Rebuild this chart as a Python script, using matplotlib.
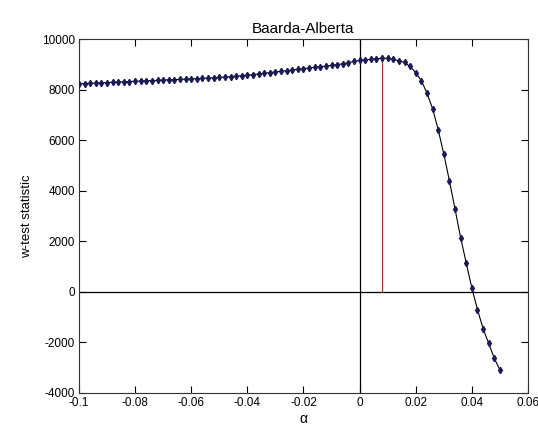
import matplotlib
matplotlib.use("Agg")
import matplotlib.pyplot as plt
import numpy as np

plt.rcParams['font.family'] = ['Liberation Sans', 'DejaVu Sans']

alpha = [-0.100, -0.098, -0.096, -0.094, -0.092, -0.090, -0.088, -0.086, -0.084, -0.082,
         -0.080, -0.078, -0.076, -0.074, -0.072, -0.070, -0.068, -0.066, -0.064, -0.062,
         -0.060, -0.058, -0.056, -0.054, -0.052, -0.050, -0.048, -0.046, -0.044, -0.042,
         -0.040, -0.038, -0.036, -0.034, -0.032, -0.030, -0.028, -0.026, -0.024, -0.022,
         -0.020, -0.018, -0.016, -0.014, -0.012, -0.010, -0.008, -0.006, -0.004, -0.002,
         0.000, 0.002, 0.004, 0.006, 0.008, 0.010, 0.012, 0.014, 0.016, 0.018,
         0.020, 0.022, 0.024, 0.026, 0.028, 0.030, 0.032, 0.034, 0.036, 0.038,
         0.040, 0.042, 0.044, 0.046, 0.048, 0.050]
wtest = [8230, 8240, 8250, 8258, 8268, 8278, 8288, 8298, 8308, 8318,
         8328, 8337, 8346, 8356, 8366, 8376, 8385, 8394, 8403, 8412,
         8422, 8432, 8443, 8455, 8467, 8480, 8496, 8513, 8531, 8550,
         8570, 8595, 8620, 8646, 8672, 8698, 8724, 8750, 8776, 8802,
         8828, 8854, 8880, 8906, 8932, 8958, 8988, 9022, 9062, 9113,
         9152, 9180, 9195, 9219, 9243, 9231, 9192, 9140, 9073, 8916,
         8667, 8351, 7863, 7246, 6418, 5450, 4391, 3274, 2142, 1132,
         146, -698, -1460, -2040, -2631, -3089]

xticks = [-0.1, -0.08, -0.06, -0.04, -0.02, 0, 0.02, 0.04, 0.06]
xticklabels = ['-0.1', '-0.08', '-0.06', '-0.04', '-0.02', '0', '0.02', '0.04', '0.06']
yticks = [-4000, -2000, 0, 2000, 4000, 6000, 8000, 10000]
yticklabels = ['-4000', '-2000', '0', '2000', '4000', '6000', '8000', '10000']

fig = plt.figure(figsize=(5.38, 4.32), dpi=100)
ax = fig.add_axes([0.1468, 0.0903, 0.8346, 0.8194])

# axes reference lines
ax.axhline(0, color='black', lw=0.9, zorder=1)
ax.axvline(0, color='black', lw=0.9, zorder=1)

# vertical red line at the maximum
imax = int(np.argmax(wtest))
ax.plot([alpha[imax], alpha[imax]], [0, wtest[imax]], color='#b03030', lw=0.9, zorder=1)

ax.plot(alpha, wtest, color='black', lw=0.8, zorder=2)
ax.plot(alpha, wtest, linestyle='none', marker='d', markersize=3.2,
        markerfacecolor='#1a1a55', markeredgecolor='#1a1a55', zorder=3)

ax.set_xlim(-0.1, 0.06)
ax.set_ylim(-4000, 10000)
ax.set_xticks(xticks)
ax.set_xticklabels(xticklabels)
ax.set_yticks(yticks)
ax.set_yticklabels(yticklabels)
ax.tick_params(direction='in', top=True, right=True, length=5, width=0.8,
               labelsize=8.5, colors='black', pad=3)
for s in ax.spines.values():
    s.set_linewidth(0.8)
    s.set_color('#333333')

ax.set_title('Baarda-Alberta', fontsize=11, pad=4)
ax.set_xlabel('α', fontsize=10, labelpad=2)
ax.set_ylabel('w-test statistic', fontsize=9.5, labelpad=6)

fig.savefig('out.png', dpi=100)
